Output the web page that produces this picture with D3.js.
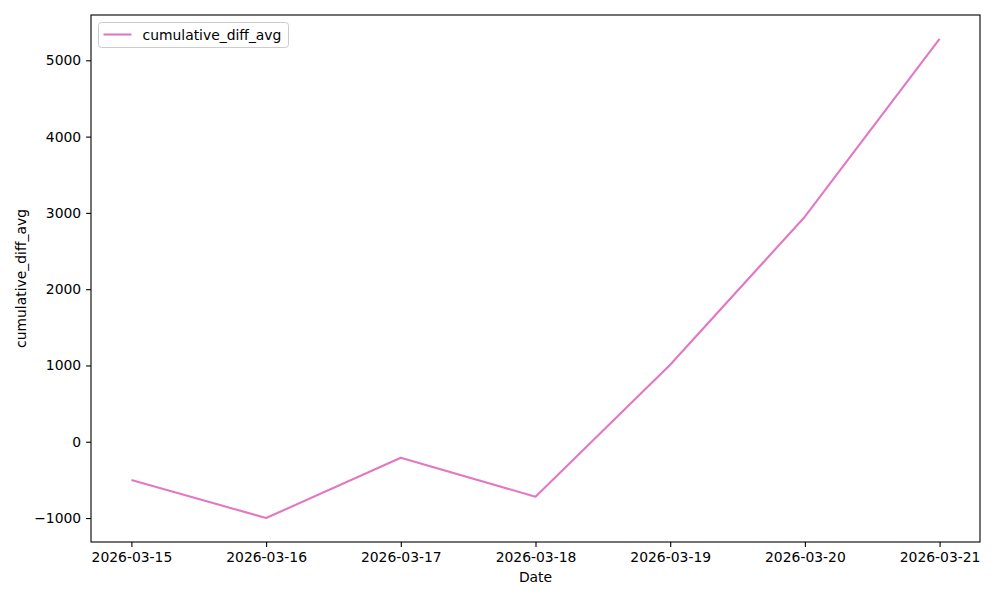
<!DOCTYPE html>
<html>
<head>
<meta charset="utf-8">
<script src="https://d3js.org/d3.v7.min.js"></script>
<style>
body { margin: 0; background: #fff; }
text { font-family: "DejaVu Sans", sans-serif; }
</style>
</head>
<body>
<svg id="chart" width="1000" height="600"></svg>
<script>
// données
var dates = ["2026-03-15", "2026-03-16", "2026-03-17", "2026-03-18", "2026-03-19", "2026-03-20", "2026-03-21"];
var values = [-500, -1000, -210, -720, 1010, 2950, 5280];
var yTicks = [-1000, 0, 1000, 2000, 3000, 4000, 5000];
var seriesName = "cumulative_diff_avg";

var parse = d3.timeParse("%Y-%m-%d");
var datas = dates.map(function (d, i) { return { date: parse(d), value: values[i] }; });

var margin = {top: 15, right: 20, bottom: 58, left: 91},
	width = 1000 - margin.left - margin.right,
	height = 600 - margin.top - margin.bottom;

var svg = d3.select("#chart");
var g = svg.append("g").attr("transform", `translate(${margin.left}, ${margin.top})`);

// échelles avec marge de 5% comme matplotlib
var xExt = d3.extent(datas, d => d.date);
var xPad = (xExt[1] - xExt[0]) * 0.05;
var xScale = d3.scaleTime()
	.domain([new Date(+xExt[0] - xPad), new Date(+xExt[1] + xPad)])
	.range([0, width]);

var yExt = d3.extent(values);
var yPad = (yExt[1] - yExt[0]) * 0.05;
var yScale = d3.scaleLinear()
	.domain([yExt[0] - yPad, yExt[1] + yPad])
	.range([height, 0]);

// axes
g.append("g")
	.attr("transform", `translate(0, ${height})`)
	.call(d3.axisBottom(xScale)
		.tickValues(datas.map(d => d.date))
		.tickFormat(d3.timeFormat("%Y-%m-%d"))
		.tickSizeOuter(0).tickSize(4.9).tickPadding(4.9));

g.append("g")
	.call(d3.axisLeft(yScale)
		.tickValues(yTicks)
		.tickFormat(d => d < 0 ? "\u2212" + Math.abs(d) : d)
		.tickSizeOuter(0).tickSize(4.9).tickPadding(4.9));

g.selectAll(".tick text").style("font-size", "13.9px").attr("fill", "#000");
g.selectAll(".tick line").attr("stroke", "#000").attr("stroke-width", 1.1);
g.selectAll(".domain").remove();

// cadre
g.append("rect")
	.attr("width", width).attr("height", height)
	.attr("fill", "none").attr("stroke", "#000").attr("stroke-width", 1.1);

// courbe
var line = d3.line().x(d => xScale(d.date)).y(d => yScale(d.value));
g.append("path")
	.datum(datas)
	.attr("fill", "none")
	.attr("stroke", "#e377c2")
	.attr("stroke-width", 2.1)
	.attr("stroke-linejoin", "round")
	.attr("d", line);

// labels des axes
svg.append("text")
	.attr("x", margin.left + width / 2).attr("y", 582)
	.style("text-anchor", "middle").style("font-size", "13.9px")
	.text("Date");

svg.append("text")
	.attr("transform", `translate(26, ${margin.top + height / 2}) rotate(-90)`)
	.style("text-anchor", "middle").style("font-size", "13.9px")
	.text(seriesName);

// légende
var legend = svg.append("g").attr("transform", "translate(98.5, 22.5)");
legend.append("rect")
	.attr("width", 190).attr("height", 25).attr("rx", 3)
	.attr("fill", "#fff").attr("stroke", "#ccc");
legend.append("line")
	.attr("x1", 5).attr("x2", 33).attr("y1", 12).attr("y2", 12)
	.attr("stroke", "#e377c2").attr("stroke-width", 2.1);
legend.append("text")
	.attr("x", 44).attr("y", 17)
	.style("font-size", "13.9px")
	.text(seriesName);
</script>
</body>
</html>
